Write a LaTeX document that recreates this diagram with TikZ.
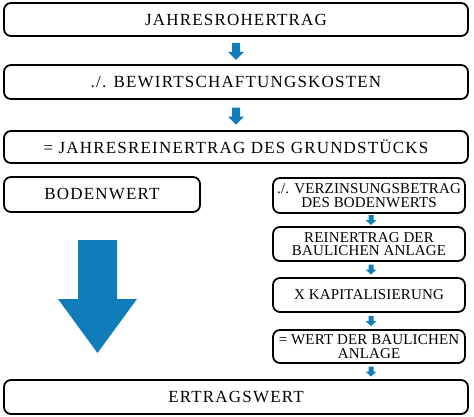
\documentclass[tikz,border=0pt]{standalone}
\usepackage{fontspec}
\setmainfont{Liberation Serif}
\newfontfamily\capfont[LetterSpace=7]{Liberation Serif}
\newfontfamily\capfontb[LetterSpace=1]{Liberation Serif}
\definecolor{arrowc}{RGB}{16,124,185}
\tikzset{
  box/.style={draw=black, line width=1.8pt, rounded corners=7pt, fill=white, inner sep=0pt, align=center},
  bigtext/.style={font=\capfont\fontsize{17}{18}\selectfont},
  smalltext/.style={font=\capfontb\fontsize{15}{13.5}\selectfont},
  sarrow/.pic={\fill[arrowc] (-4,-9) -- (4,-9) -- (4,0) -- (8,0) -- (0,8) -- (-8,0) -- (-4,0) -- cycle;},
  tarrow/.pic={\fill[arrowc] (-2.5,-5) -- (2.5,-5) -- (2.5,0) -- (5.5,0) -- (0,5) -- (-5.5,0) -- (-2.5,0) -- cycle;},
}
\begin{document}
\begin{tikzpicture}[x=1pt,y=-1pt]
\useasboundingbox (0,0) rectangle (474,417);
\node[box, bigtext, minimum width=464pt, minimum height=33pt] (b1) at (236,19.5) {JAHRESROHERTRAG};
\node[box, bigtext, minimum width=464pt, minimum height=34pt] (b2) at (236,82) {./. BEWIRTSCHAFTUNGSKOSTEN};
\node[box, bigtext, minimum width=464pt, minimum height=32pt] (b3) at (236,147) {= JAHRESREINERTRAG DES GRUNDSTÜCKS};
\node[box, bigtext, minimum width=196pt, minimum height=35pt] (bw) at (102,194.5) {BODENWERT};
\node[box, smalltext, minimum width=192pt, minimum height=35pt] (r1) at (369,195.5) {./. VERZINSUNGSBETRAG\\DES BODENWERTS};
\node[box, smalltext, minimum width=192pt, minimum height=34pt] (r2) at (369,244) {REINERTRAG DER\\BAULICHEN ANLAGE};
\node[box, smalltext, minimum width=192pt, minimum height=34pt] (r3) at (369,295) {X KAPITALISIERUNG};
\node[box, smalltext, minimum width=192pt, minimum height=33pt] (r4) at (369,346.5) {= WERT DER BAULICHEN\\ANLAGE};
\node[box, bigtext, minimum width=464pt, minimum height=34pt] (e) at (236,397) {ERTRAGSWERT};
% top arrows
\path (b1.south) -- (b2.north) coordinate[pos=0.55] (m1);
\path (b2.south) -- (b3.north) coordinate[pos=0.55] (m2);
\pic at (m1) {sarrow};
\pic at (m2) {sarrow};
% right arrows
\path (r1.south) -- (r2.north) coordinate[pos=0.5] (n1);
\path (r2.south) -- (r3.north) coordinate[pos=0.5] (n2);
\path (r3.south) -- (r4.north) coordinate[pos=0.5] (n3);
\path (r4.south) -- (r4.south |- e.north) coordinate[pos=0.5] (n4);
\pic at ([xshift=2pt]n1) {tarrow};
\pic at ([xshift=2pt]n2) {tarrow};
\pic at ([xshift=2pt]n3) {tarrow};
\pic at ([xshift=2pt]n4) {tarrow};
% big arrow
\coordinate (ba) at (97.5,299);
\fill[arrowc] ([shift={(-19.5,-59)}]ba) -- ([shift={(19.5,-59)}]ba) -- ([shift={(19.5,0)}]ba) -- ([shift={(39.5,0)}]ba) -- ([shift={(0,54)}]ba) -- ([shift={(-39.5,0)}]ba) -- ([shift={(-19.5,0)}]ba) -- cycle;
\end{tikzpicture}
\end{document}
